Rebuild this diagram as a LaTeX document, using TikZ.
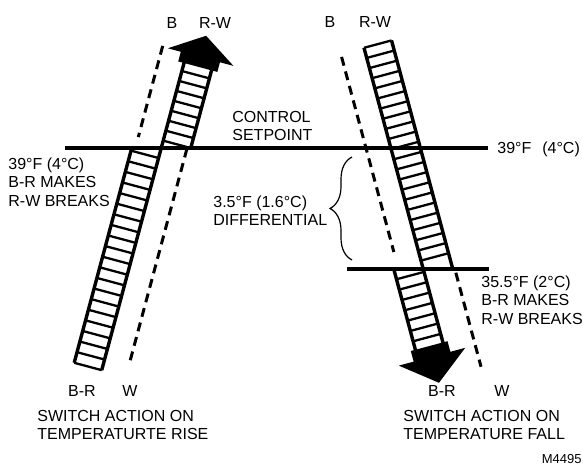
\documentclass[tikz,border=0pt]{standalone}
\usepackage{fontspec}
\setmainfont{Liberation Sans}
\usetikzlibrary{decorations.pathreplacing}
\tikzset{rail/.style={line width=1.7pt},rung/.style={line width=1.15pt},contact/.style={line width=1.5pt,dash pattern=on 4.5pt off 3pt},bar/.style={line width=2.4pt},head/.style={fill=black},lbl/.style={font=\fontsize{8}{9.2}\selectfont,inner sep=0pt,align=left}}

\begin{document}
\begin{tikzpicture}[x=0.5pt,y=-0.5pt]
\useasboundingbox (0,0) rectangle (583,464);
% switch action on rise
\begin{scope}[shift={(161.25,148)},x=0.5pt,y=0.5pt,rotate=-15]
\draw[rail] (-28.5,-230) -- (-28.5,-7.6);
\draw[rail] (0,-230) -- (0,90);
\draw[rail] (28.5,7.6) -- (28.5,90);
\foreach \k in {0,...,20} \draw[rung] (-28.5,-230+10.98*\k) -- (0,-230+10.98*\k);
\foreach \k in {0,...,8} \draw[rung] (0,7.6+10.3*\k) -- (28.5,7.6+10.3*\k);
\draw[contact] (-25,99) -- (-25,4.6);
\draw[contact] (25,6) -- (25,-216);
\fill[head] (-6,88) -- (-6,98) -- (-19.5,98) -- (14.25,120) -- (48.5,98) -- (34.5,98) -- (34.5,88) -- cycle;
\end{scope}
% switch action on fall
\begin{scope}[shift={(423.25,269)},x=0.5pt,y=0.5pt,rotate=15]
\draw[rail] (0,-78) -- (0,229);
\draw[rail] (28.5,-7.6) -- (28.5,229);
\draw[rail] (-28.5,7.6) -- (-28.5,-78);
\foreach \k in {0,...,21} \draw[rung] (0,8.7+10.49*\k) -- (28.5,8.7+10.49*\k);
\foreach \k in {0,...,7} \draw[rung] (-28.5,-3-10.7*\k) -- (0,-3-10.7*\k);
\draw[contact] (-24,226) -- (-24,24);
\draw[contact] (30.5,-12) -- (30.5,-109.4);
\fill[head] (-33.25,-76) -- (-33.25,-87) -- (-48.6,-87) -- (-14.25,-114) -- (20.1,-87) -- (4.75,-87) -- (4.75,-76) -- cycle;
\end{scope}
\draw[bar] (65,148) -- (488,148);
\draw[bar] (347,269) -- (489,269);
\draw[line width=0.6pt,decorate,decoration={brace,amplitude=11pt}] (352,260) -- (352,157);
\node[lbl] (riseB) at (172,23) {B};
\node[lbl] (riseRW) at (215,23) {R-W};
\node[lbl] (fallB) at (330,22) {B};
\node[lbl] (fallRW) at (375,22) {R-W};
\node[lbl,anchor=west] (ctrl) at (232,126) {CONTROL\\SETPOINT};
\node[lbl,anchor=west] (risemake) at (8,182) {39°F (4°C)\\B-R MAKES\\R-W BREAKS};
\node[lbl,anchor=west] (diff) at (213,211) {3.5°F (1.6°C)\\DIFFERENTIAL};
\node[lbl,anchor=west] (fallset) at (497,149) {39°F\hspace{5.5pt}(4°C)};
\node[lbl,anchor=west] (fallmake) at (481,300) {35.5°F (2°C)\\B-R MAKES\\R-W BREAKS};
\node[lbl] (riseBR) at (82,391) {B-R};
\node[lbl] (riseW) at (130,391) {W};
\node[lbl] (fallBR) at (442,391) {B-R};
\node[lbl] (fallW) at (502,391) {W};
\node[lbl,anchor=west] (risecap) at (37,425) {SWITCH ACTION ON\\TEMPERATURTE RISE};
\node[lbl,anchor=west] (fallcap) at (403,425) {SWITCH ACTION ON\\TEMPERATURE FALL};
\node[lbl,anchor=east,font=\fontsize{6.5}{7.5}\selectfont] (fig) at (582,459) {M4495};
\end{tikzpicture}
\end{document}
